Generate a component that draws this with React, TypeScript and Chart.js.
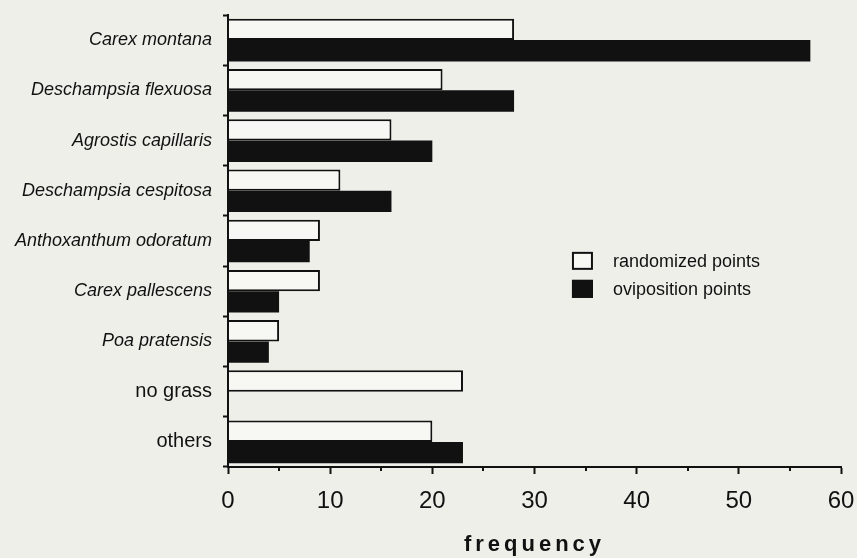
import React, { useEffect, useRef } from "react";
import { Chart, registerables } from "chart.js";

Chart.register(...registerables);

const categories = [
  "Carex montana",
  "Deschampsia flexuosa",
  "Agrostis capillaris",
  "Deschampsia cespitosa",
  "Anthoxanthum odoratum",
  "Carex pallescens",
  "Poa pratensis",
  "no grass",
  "others",
];
const italicLabels = [true, true, true, true, true, true, true, false, false];
const randomizedPoints = [28, 21, 16, 11, 9, 9, 5, 23, 20];
const ovipositionPoints = [57, 28, 20, 16, 8, 5, 4, 0, 23];
const seriesLabels = ["randomized points", "oviposition points"];
const axisTitle = "frequency";
const xMin = 0;
const xMax = 60;
const majorStep = 10;
const minorStep = 5;

const FONT = "'Liberation Sans', Arial, Helvetica, sans-serif";
const INK = "#111111";
const BG = "#efefea";
const LIGHT = "#f7f7f3";

export default function App() {
  const ref = useRef<HTMLCanvasElement | null>(null);

  useEffect(() => {
    if (!ref.current) return;

    const decorPlugin = {
      id: "decor",
      afterDatasetsDraw(chart: any) {
        chart.ctx.letterSpacing = "4px";
      },
      afterDraw(chart: any) {
        const ctx = chart.ctx;
        ctx.letterSpacing = "0px";
        const xs = chart.scales.x;
        const area = chart.chartArea;
        // minor ticks
        ctx.save();
        ctx.strokeStyle = INK;
        ctx.lineWidth = 2;
        for (let v = xMin + minorStep; v < xMax; v += majorStep) {
          const px = Math.round(xs.getPixelForValue(v));
          ctx.beginPath();
          ctx.moveTo(px, area.bottom);
          ctx.lineTo(px, area.bottom + 4);
          ctx.stroke();
        }
        // legend
        const lx = area.left + (area.right - area.left) * 0.5611;
        const ly = area.top + (area.bottom - area.top) * 0.524;
        const fills = [LIGHT, INK];
        ctx.font = `18px ${FONT}`;
        ctx.textBaseline = "middle";
        ctx.textAlign = "left";
        for (let i = 0; i < seriesLabels.length; i++) {
          const y = ly + i * 28;
          ctx.fillStyle = fills[i];
          ctx.fillRect(lx, y, 21, 18);
          ctx.strokeStyle = INK;
          ctx.lineWidth = 2;
          ctx.strokeRect(lx + 1, y + 1, 19, 16);
          ctx.fillStyle = INK;
          ctx.fillText(seriesLabels[i], lx + 41, y + 10);
        }
        ctx.restore();
      },
    };

    const chart = new Chart(ref.current, {
      type: "bar",
      data: {
        labels: categories,
        datasets: [
          {
            label: seriesLabels[0],
            data: randomizedPoints,
            backgroundColor: LIGHT,
            borderColor: INK,
            borderWidth: 2,
            borderSkipped: "start",
            barPercentage: 1,
            categoryPercentage: 0.85,
          },
          {
            label: seriesLabels[1],
            data: ovipositionPoints,
            backgroundColor: INK,
            borderColor: INK,
            borderWidth: 0,
            barPercentage: 1,
            categoryPercentage: 0.85,
          },
        ],
      },
      options: {
        indexAxis: "y",
        responsive: false,
        animation: false,
        maintainAspectRatio: false,
        layout: { padding: { top: 15, right: 16, bottom: 0, left: 0 } },
        plugins: {
          legend: { display: false },
          tooltip: { enabled: false },
        },
        scales: {
          x: {
            type: "linear",
            min: xMin,
            max: xMax,
            ticks: {
              stepSize: majorStep,
              color: INK,
              font: { family: FONT, size: 24 },
              padding: 13,
              z: 0,
            },
            grid: {
              drawOnChartArea: false,
              drawTicks: true,
              tickLength: 7,
              tickColor: INK,
              tickWidth: 2,
              z: 1,
            },
            border: { display: true, color: INK, width: 2, z: 2 },
            title: {
              display: true,
              text: axisTitle,
              color: INK,
              font: { family: FONT, size: 22, weight: "bold" },
              padding: { top: 0, bottom: 0 },
            },
            afterFit(scale: any) {
              scale.height = 91;
              scale.paddingLeft = 0;
              scale.paddingRight = 0;
            },
          },
          y: {
            type: "category",
            ticks: {
              color: INK,
              padding: 11,
              font: (ctx: any) =>
                italicLabels[ctx.index]
                  ? { family: FONT, size: 18, style: "italic" }
                  : { family: FONT, size: 20, style: "normal" },
            },
            grid: {
              offset: true,
              drawOnChartArea: false,
              drawTicks: true,
              tickLength: 5,
              tickColor: INK,
              tickWidth: 2,
            },
            border: { display: true, color: INK, width: 2, z: 2 },
            afterFit(scale: any) {
              scale.width = 228;
              scale.paddingTop = 0;
              scale.paddingBottom = 0;
            },
          },
        },
      },
      plugins: [decorPlugin],
    });

    return () => chart.destroy();
  }, []);

  return (
    <div
      style={{
        position: "absolute",
        left: 0,
        top: 0,
        width: 857,
        height: 558,
        background: BG,
      }}
    >
      <canvas ref={ref} width={857} height={558} style={{ display: "block" }} />
    </div>
  );
}
